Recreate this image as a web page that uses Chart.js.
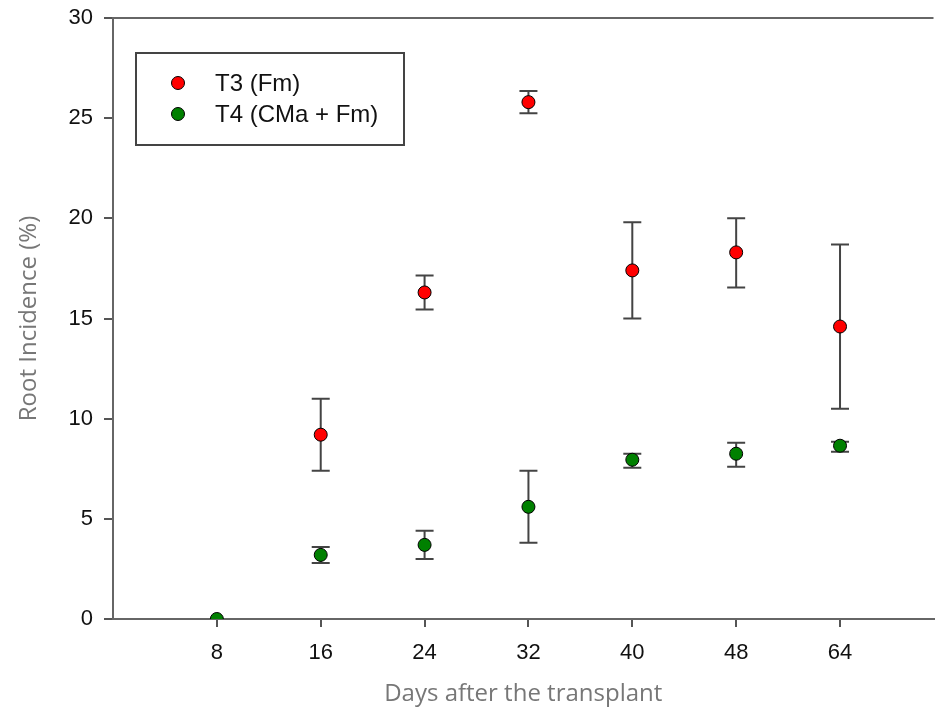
<!DOCTYPE html>
<html>
<head>
<meta charset="utf-8">
<script src="https://cdn.jsdelivr.net/npm/chart.js@4"></script>
<style>
  body { margin: 0; background: #fff; overflow: hidden; }
</style>
</head>
<body>
<canvas id="root-chart" width="941" height="712"></canvas>
<script>
const days = ["8", "16", "24", "32", "40", "48", "64"];

const t3Mean  = [null, 9.2, 16.3, 25.8, 17.4, 18.3, 14.6];
const t3Upper = [null, 11.0, 17.15, 26.35, 19.8, 20.0, 18.7];
const t3Lower = [null, 7.4, 15.45, 25.25, 15.0, 16.55, 10.5];

const t4Mean  = [0, 3.2, 3.7, 5.6, 7.95, 8.25, 8.65];
const t4Upper = [0, 3.6, 4.4, 7.4, 8.25, 8.8, 8.85];
const t4Lower = [0, 2.8, 3.0, 3.8, 7.55, 7.6, 8.35];

const yTicks = [0, 5, 10, 15, 20, 25, 30];

const toPoints = (values) => values.map((v, i) => ({ x: i + 1, y: v }));

// error bars drawn under the markers
const errorBars = {
  id: "errorBars",
  beforeDatasetsDraw(chart) {
    const ctx = chart.ctx;
    const x = chart.scales.x;
    const y = chart.scales.y;
    ctx.save();
    ctx.strokeStyle = "#444";
    ctx.lineWidth = 2;
    chart.data.datasets.forEach((ds) => {
      ds.upper.forEach((hi, i) => {
        const lo = ds.lower[i];
        if (hi == null || lo == null || hi === lo) return;
        const px = x.getPixelForValue(i + 1);
        const top = y.getPixelForValue(hi);
        const bot = y.getPixelForValue(lo);
        ctx.beginPath();
        ctx.moveTo(px, top);
        ctx.lineTo(px, bot);
        ctx.moveTo(px - 9, top);
        ctx.lineTo(px + 9, top);
        ctx.moveTo(px - 9, bot);
        ctx.lineTo(px + 9, bot);
        ctx.stroke();
      });
    });
    ctx.restore();
  }
};

// top frame line and boxed legend inside the plot
const frameAndLegend = {
  id: "frameAndLegend",
  afterDraw(chart) {
    const ctx = chart.ctx;
    const area = chart.chartArea;
    ctx.save();
    ctx.strokeStyle = "#666";
    ctx.lineWidth = 2;
    ctx.beginPath();
    ctx.moveTo(area.left, area.top);
    ctx.lineTo(area.right, area.top);
    ctx.stroke();

    const bx = area.left + 23;
    const by = area.top + 35;
    ctx.strokeStyle = "#444";
    ctx.strokeRect(bx, by, 268, 92);

    chart.data.datasets.forEach((ds, i) => {
      const cy = by + 30 + i * 31;
      ctx.beginPath();
      ctx.arc(bx + 42, cy, 6.5, 0, Math.PI * 2);
      ctx.fillStyle = ds.backgroundColor;
      ctx.fill();
      ctx.lineWidth = 1;
      ctx.strokeStyle = "#000";
      ctx.stroke();
      ctx.fillStyle = "#111";
      ctx.font = "24px 'Liberation Sans', Arial, sans-serif";
      ctx.textBaseline = "middle";
      ctx.fillText(ds.label, bx + 79, cy + 1);
    });
    ctx.restore();
  }
};

new Chart("root-chart", {
  type: "scatter",
  data: {
    datasets: [
      {
        label: "T3 (Fm)",
        data: toPoints(t3Mean),
        upper: t3Upper,
        lower: t3Lower,
        backgroundColor: "#ff0000",
        borderColor: "#000",
        borderWidth: 1,
        pointRadius: 6.5,
      },
      {
        label: "T4 (CMa + Fm)",
        data: toPoints(t4Mean),
        upper: t4Upper,
        lower: t4Lower,
        backgroundColor: "#008000",
        borderColor: "#000",
        borderWidth: 1,
        pointRadius: 6.5,
      },
    ]
  },
  options: {
    responsive: false,
    animation: false,
    devicePixelRatio: 1,
    layout: {
      padding: { top: 18, right: 0, left: 0, bottom: 0 }
    },
    plugins: {
      legend: { display: false },
      tooltip: { enabled: false },
    },
    scales: {
      x: {
        type: "linear",
        min: 0,
        max: 7.9,
        afterBuildTicks: (scale) => {
          scale.ticks = days.map((d, i) => ({ value: i + 1 }));
        },
        afterFit: (scale) => {
          scale.height = 93;
          scale.paddingLeft = 0;
          scale.paddingRight = 0;
        },
        ticks: {
          callback: (v) => days[v - 1],
          color: "#111",
          padding: 13,
          maxRotation: 0,
          font: { family: "'Liberation Sans', Arial, sans-serif", size: 22 },
        },
        grid: {
          drawOnChartArea: false,
          drawTicks: true,
          tickLength: 8,
          color: "#555",
          lineWidth: 2,
        },
        border: { display: true, color: "#666", width: 2 },
        title: {
          display: true,
          text: "Days after the transplant",
          color: "#777",
          font: { family: "'Open Sans', sans-serif", size: 24 },
          padding: { top: 4, bottom: 3 },
        }
      },
      y: {
        min: 0,
        max: 30,
        afterBuildTicks: (scale) => {
          scale.ticks = yTicks.map((v) => ({ value: v }));
        },
        afterFit: (scale) => {
          scale.width = 113;
          scale.paddingTop = 0;
          scale.paddingBottom = 0;
        },
        ticks: {
          color: "#111",
          padding: 11,
          font: { family: "'Liberation Sans', Arial, sans-serif", size: 22 },
        },
        grid: {
          drawOnChartArea: false,
          drawTicks: true,
          tickLength: 9,
          color: "#555",
          lineWidth: 2,
        },
        border: { display: true, color: "#666", width: 2 },
        title: {
          display: true,
          text: "Root Incidence (%)",
          color: "#777",
          font: { family: "'Open Sans', sans-serif", size: 24 },
          padding: { top: 15, bottom: 0 },
        }
      }
    }
  },
  plugins: [errorBars, frameAndLegend]
});
</script>
</body>
</html>
